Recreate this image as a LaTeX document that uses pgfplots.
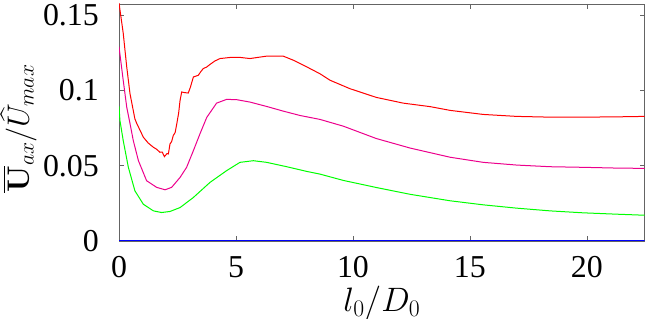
\RequirePackage{fix-cm}
\documentclass[border=0pt]{standalone}
\usepackage{amsmath}
\usepackage[no-math]{fontspec}
\setmainfont{Liberation Serif}
\usepackage{pgfplots}
\pgfplotsset{compat=1.18}
\definecolor{axgray}{RGB}{100,100,100}
\begin{document}
\begin{tikzpicture}
\useasboundingbox (0,0) rectangle (646bp,319bp);
\begin{axis}[
  at={(119bp,78bp)}, anchor=south west,
  scale only axis,
  width=525.7bp, height=237bp,
  xmin=0, xmax=22.47, ymin=0, ymax=0.1573,
  xtick={0,5,10,15,20},
  ytick={0,0.05,0.1,0.15},
  yticklabels={0,0.05,0.1,0.15},
  xticklabels={0,5,10,15,20},
  tick align=inside,
  major tick length=5bp,
  tick style={axgray, line width=0.6bp},
  axis line style={axgray, line width=0.8bp},
  ticklabel style={font=\fontsize{32}{38}\selectfont, inner sep=0pt},
  yticklabel style={anchor=east, xshift=-20bp},
  xticklabel style={anchor=base, yshift=-36.5bp},
  /pgf/number format/assume math mode=true,
  xlabel={$l_0/D_0$},
  ylabel={$\overline{\mathbf{U}}_{ax}/\widehat{U}_{max}$},
  xlabel style={font=\fontsize{34}{40}\selectfont, at={(axis description cs:0.5,0)}, anchor=base, yshift=-70bp, inner sep=0pt},
  ylabel style={font=\fontsize{31}{38}\selectfont, at={(axis description cs:-0.1712,0.4747)}, anchor=base, inner sep=0pt},
  clip=true,
]
% red
\addplot[red, line width=1bp] coordinates {
(0,0.158) (0.18,0.138) (0.33,0.1156) (0.47,0.0978) (0.68,0.081) (0.76,0.078)
(1.04,0.0689) (1.25,0.065) (1.47,0.0622) (1.6,0.061) (1.75,0.0589) (1.85,0.059) (1.94,0.056)
(2.05,0.058) (2.11,0.0578) (2.18,0.0644) (2.25,0.066) (2.32,0.07) (2.4,0.072) (2.47,0.0778)
(2.55,0.085) (2.61,0.0933) (2.68,0.0989) (2.8,0.0985) (2.96,0.0982) (3.05,0.102) (3.18,0.1089)
(3.3,0.1095) (3.39,0.11) (3.5,0.1125) (3.6,0.1144) (3.75,0.1155) (3.89,0.1172) (4.1,0.1195)
(4.32,0.1211) (4.74,0.1218) (5.2,0.1218) (5.6,0.1211) (6.0,0.122) (6.31,0.1227) (7.02,0.1227)
(7.45,0.12) (8.02,0.1156) (8.59,0.111) (9.02,0.1067) (9.87,0.1011) (11.0,0.0953)
(12.15,0.0915) (13.29,0.0892) (14.15,0.0867) (15.57,0.084) (17.0,0.0827) (18.42,0.0822)
(19.84,0.0822) (21.27,0.0824) (22.47,0.0827)
};
% magenta
\addplot[magenta, line width=1bp] coordinates {
(0,0.129) (0.18,0.1067) (0.33,0.0889) (0.47,0.078) (0.61,0.0667) (0.83,0.0533)
(1.18,0.04) (1.61,0.0356) (1.97,0.034) (2.25,0.0356) (2.61,0.0422) (2.89,0.0489)
(3.18,0.06) (3.46,0.0711) (3.75,0.082) (4.17,0.0915) (4.6,0.094) (5.03,0.0938)
(5.6,0.0922) (6.31,0.0893) (7.02,0.0862) (7.74,0.0833) (8.59,0.0807) (9.59,0.0762)
(11.0,0.068) (12.44,0.0617) (14.15,0.0556) (15.57,0.0522) (17.0,0.0504) (18.42,0.0493)
(19.84,0.0489) (21.27,0.0484) (22.47,0.0482)
};
% green
\addplot[green, line width=1bp] coordinates {
(0,0.0893) (0.04,0.08) (0.18,0.0667) (0.4,0.0489) (0.68,0.0333) (1.04,0.0244)
(1.47,0.02) (1.82,0.0189) (2.18,0.0196) (2.61,0.0222) (3.18,0.0289) (3.89,0.0389)
(4.6,0.0467) (5.17,0.0522) (5.74,0.0533) (6.31,0.0522) (7.17,0.0493) (8.02,0.0462)
(8.59,0.0444) (9.59,0.0402) (11.0,0.0355) (12.44,0.031) (14.15,0.0267) (15.57,0.024)
(17.0,0.0218) (18.42,0.02) (19.84,0.0187) (21.27,0.0178) (22.47,0.0171)
};
% blue
\addplot[blue, line width=1.5bp] coordinates {(0,0) (22.47,0)};
\end{axis}
\end{tikzpicture}
\end{document}
